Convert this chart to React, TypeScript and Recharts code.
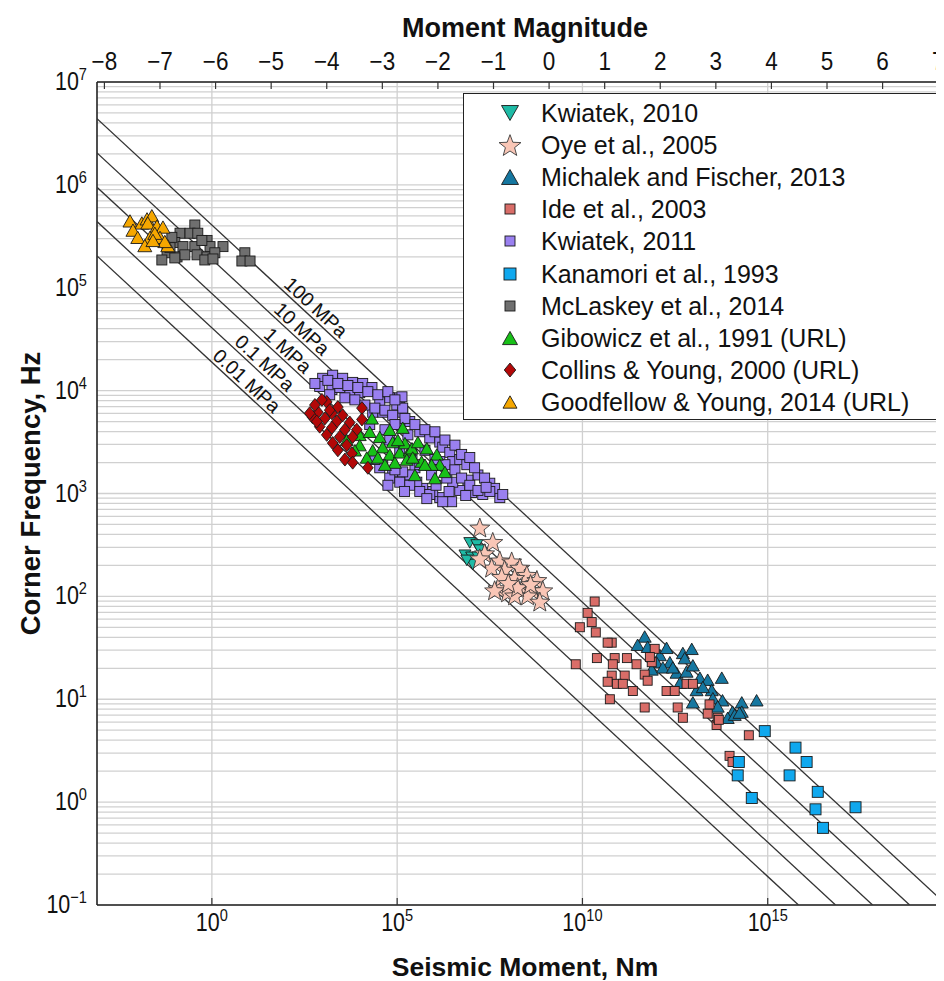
import React from 'react';
import { ScatterChart, Scatter, XAxis, YAxis, CartesianGrid, Legend } from 'recharts';

// ---------- data: [log10 seismic moment (Nm), log10 corner frequency (Hz)] ----------
const kwiatek2010 = [
  [6.96, 2.52], [7.15, 2.5], [6.83, 2.4], [7.01, 2.38], [7.18, 2.38], [7.04, 2.31], [6.88, 2.35], [7.23, 2.45],
];
const oye2005 = [
  [7.23, 2.67], [7.58, 2.53], [7.36, 2.42], [7.77, 2.35], [8.09, 2.34], [7.9, 2.26], [8.31, 2.28], [8.5, 2.21],
  [8.17, 2.18], [8.77, 2.16], [7.72, 2.08], [7.98, 2.04], [8.36, 2.06], [8.66, 2.06], [8.93, 2.06], [8.52, 2.01],
  [8.17, 2.01], [8.85, 1.95], [8.25, 2.09], [7.55, 2.28], [7.23, 2.37], [7.82, 2.19], [7.63, 2.06], [8.6, 2.12],
  [8.0, 2.13],
];
const michalek2013 = [
  [11.68, 1.61], [11.49, 1.53], [11.76, 1.51], [12.09, 1.43], [12.27, 1.5], [12.0, 1.36], [12.36, 1.36], [12.71, 1.45],
  [12.95, 1.49], [12.76, 1.4], [12.17, 1.31], [12.54, 1.26], [12.81, 1.27], [12.98, 1.33], [13.17, 1.21], [13.38, 1.19],
  [13.76, 1.21], [13.08, 1.09], [13.49, 1.09], [12.98, 0.97], [13.52, 1.01], [13.78, 0.99], [14.3, 0.97], [14.7, 0.99],
  [14.05, 0.88], [14.3, 0.88], [13.65, 0.93], [13.92, 0.82], [11.87, 1.29], [12.44, 1.31], [13.25, 1.12], [12.63, 1.16],
  [14.11, 0.85], [14.24, 0.87],
];
const ide2003 = [
  [10.33, 1.95], [10.14, 1.84], [10.25, 1.75], [9.93, 1.7], [10.36, 1.65], [10.79, 1.55], [10.68, 1.55], [9.82, 1.34],
  [10.39, 1.4], [10.87, 1.4], [11.2, 1.4], [11.46, 1.34], [10.82, 1.34], [11.14, 1.23], [10.79, 1.23], [10.68, 1.17],
  [10.93, 1.15], [11.09, 1.15], [11.68, 1.24], [11.76, 1.18], [11.36, 1.08], [10.74, 1.0], [11.87, 1.36], [11.95, 1.49],
  [11.68, 0.92], [12.27, 1.08], [12.49, 1.08], [12.81, 1.15], [12.98, 1.15], [12.57, 0.92], [12.71, 0.82], [13.38, 0.86],
  [13.43, 0.95], [13.62, 0.75], [13.65, 0.82], [11.82, 1.41], [13.68, 0.8], [14.49, 0.65], [13.97, 0.45], [14.05, 0.39],
];
const kwiatek2011 = [
  [2.99, 4.12], [3.26, 4.15], [3.53, 4.12], [3.8, 4.08], [4.07, 4.07], [4.32, 4.03], [3.72, 3.96], [3.24, 4.01],
  [2.91, 4.04], [3.45, 4.03], [3.99, 3.98], [4.53, 3.89], [4.8, 3.93], [5.07, 3.93], [4.99, 3.86], [4.61, 3.79],
  [4.34, 3.79], [5.15, 3.79], [5.34, 3.7], [5.07, 3.67], [4.61, 3.28], [4.88, 3.21], [5.26, 3.18], [5.48, 3.25],
  [5.13, 3.94], [5.15, 3.83], [5.29, 3.57], [5.61, 3.6], [5.88, 3.54], [6.15, 3.5], [6.23, 3.45], [6.42, 3.4],
  [6.5, 3.31], [6.69, 3.33], [6.88, 3.28], [7.18, 3.18], [7.5, 3.1], [7.77, 2.96], [7.31, 2.99], [7.01, 3.01],
  [6.69, 3.03], [6.5, 3.11], [6.34, 3.15], [6.15, 2.96], [5.96, 3.02], [5.69, 3.05], [5.53, 3.11], [5.34, 3.18],
  [5.15, 3.21], [6.47, 2.92], [6.23, 2.92], [6.91, 3.13], [6.15, 3.31], [5.61, 3.28], [5.93, 3.18], [2.78, 4.07],
  [3.13, 4.1], [3.4, 4.07], [3.67, 4.05], [3.94, 4.03], [4.21, 3.99], [4.48, 3.96], [4.75, 3.99], [4.94, 3.91],
  [3.18, 3.96], [3.59, 3.93], [3.86, 3.91], [4.13, 3.86], [4.4, 3.83], [4.67, 3.81], [4.88, 3.76], [5.21, 3.73],
  [5.48, 3.67], [5.75, 3.62], [6.02, 3.6], [6.29, 3.52], [6.56, 3.47], [6.74, 3.38], [6.96, 3.35], [7.09, 3.25],
  [7.36, 3.15], [7.63, 3.05], [7.85, 2.99], [6.29, 3.28], [6.56, 3.23], [6.74, 3.15], [6.96, 3.08], [7.18, 3.03],
  [7.5, 3.02], [4.53, 3.25], [4.8, 3.15], [5.07, 3.11], [5.34, 3.08], [5.61, 3.02], [5.88, 2.99], [4.94, 3.23],
  [4.4, 3.33], [5.75, 3.42], [6.02, 3.33], [5.4, 3.38], [5.07, 3.42], [4.8, 3.52], [4.94, 3.67], [4.67, 3.62],
  [4.26, 3.67], [5.8, 2.95], [6.05, 3.08], [6.4, 3.02], [6.85, 2.98], [5.2, 3.02], [4.75, 3.08], [7.4, 3.06],
];
const kanamori1993 = [
  [14.92, 0.69], [15.75, 0.53], [16.05, 0.39], [14.22, 0.39], [14.19, 0.26], [15.59, 0.26], [16.35, 0.1], [14.57, 0.04],
  [16.29, -0.07], [17.37, -0.05], [16.49, -0.25],
];
const mclaskey2014 = [
  [-0.46, 5.61], [-0.86, 5.53], [-0.59, 5.53], [-0.38, 5.53], [-0.13, 5.46], [-1.0, 5.44], [-0.78, 5.4], [-0.46, 5.4],
  [-0.05, 5.4], [0.3, 5.4], [-1.21, 5.34], [-0.94, 5.3], [-0.73, 5.32], [-0.4, 5.32], [-0.13, 5.3], [0.08, 5.34],
  [-1.35, 5.27], [-1.0, 5.29], [-0.19, 5.27], [0.03, 5.28], [0.89, 5.34], [0.81, 5.26], [1.03, 5.26], [-1.13, 5.39],
  [-0.27, 5.46], [-1.08, 5.49],
];
const gibowicz1991 = [
  [3.64, 3.52], [4.32, 3.73], [3.99, 3.57], [4.26, 3.6], [4.53, 3.55], [4.8, 3.62], [4.88, 3.5], [5.15, 3.64],
  [4.61, 3.45], [4.34, 3.42], [4.8, 3.38], [5.07, 3.4], [5.34, 3.42], [4.18, 3.35], [3.99, 3.47], [4.48, 3.35],
  [4.94, 3.3], [5.26, 3.33], [5.48, 3.18], [5.21, 3.49], [5.4, 3.44], [5.56, 3.5], [5.8, 3.44], [6.07, 3.38],
  [6.15, 3.28], [5.93, 3.28], [5.66, 3.31], [5.42, 3.35], [6.29, 3.21], [6.02, 3.15], [5.75, 3.28], [4.67, 3.28],
  [3.86, 3.42], [5.02, 3.52],
];
const collins2000 = [
  [3.1, 3.89], [3.4, 3.84], [2.86, 3.79], [3.24, 3.78], [3.53, 3.76], [2.72, 3.74], [3.05, 3.73], [3.37, 3.7],
  [3.72, 3.69], [4.05, 3.83], [2.91, 3.65], [3.24, 3.64], [3.59, 3.62], [3.91, 3.62], [3.1, 3.57], [3.45, 3.55],
  [3.8, 3.55], [3.26, 3.49], [3.64, 3.47], [3.4, 3.42], [3.78, 3.39], [3.59, 3.33], [3.8, 3.3], [4.21, 3.25],
  [2.83, 3.7], [2.64, 3.78], [4.05, 3.72], [2.78, 3.86], [2.97, 3.91], [3.18, 3.81],
];
const goodfellow2014 = [
  [-2.21, 5.65], [-1.89, 5.63], [-1.75, 5.67], [-1.62, 5.7], [-1.73, 5.63], [-2.13, 5.56], [-1.48, 5.6], [-1.32, 5.59],
  [-2.0, 5.49], [-1.67, 5.49], [-1.4, 5.49], [-1.81, 5.41], [-1.19, 5.41], [-1.27, 5.45], [-1.54, 5.53], [-1.59, 5.46],
];

// constant stress-drop reference lines (endpoints, log10 units)
const stressLabels = ['100 MPa', '10 MPa', '1 MPa', '0.1 MPa', '0.01 MPa'];
const stressLineStart = [[-3.1, 6.643], [-3.1, 6.31], [-3.1, 5.977], [-3.1, 5.643], [-3.1, 5.31]];
const stressLineEnd = [[19.83, -1], [18.83, -1], [17.83, -1], [16.83, -1], [15.83, -1]];
const stressLabelPos = [[2.81, 4.81], [2.43, 4.6], [2.05, 4.39], [1.43, 4.27], [0.944, 4.095]];

// axes
const X_LOG_MIN = -3.1;
const X_LOG_MAX = 20;
const xTicks = [1, 1e5, 1e10, 1e15];
const yTicks = [0.1, 1, 10, 100, 1e3, 1e4, 1e5, 1e6, 1e7];
const mwTicks = [-8, -7, -6, -5, -4, -3, -2, -1, 0, 1, 2, 3, 4, 5, 6, 7];
const toMw = (logM0: number) => (2 / 3) * (logM0 - 9.1);

// ---------- layout ----------
const W = 960;
const H = 973;
const PLOT_TOP = 74;
const PLOT_BOTTOM = 897;
const PLOT_LEFT = 89;
const PLOT_RIGHT = 945;
const TICK_FONT = '"Liberation Sans", Arial, Helvetica, sans-serif';
const TEXT_FONT = '"Liberation Sans", Arial, Helvetica, sans-serif';

const toPts = (arr: number[][]) => arr.map(([a, b]) => ({ m0: Math.pow(10, a), fc: Math.pow(10, b) }));

type Kind = 'square' | 'triUp' | 'triDown' | 'diamond' | 'star';

const SERIES: { name: string; data: number[][]; kind: Kind; fill: string; size: number; legendSize: number }[] = [
  { name: 'Kwiatek, 2010', data: kwiatek2010, kind: 'triDown', fill: '#1fbba6', size: 12, legendSize: 17 },
  { name: 'Oye et al., 2005', data: oye2005, kind: 'star', fill: '#f9c6b6', size: 21, legendSize: 23 },
  { name: 'Michalek and Fischer, 2013', data: michalek2013, kind: 'triUp', fill: '#1677a0', size: 13, legendSize: 17 },
  { name: 'Ide et al., 2003', data: ide2003, kind: 'square', fill: '#d96d68', size: 9, legendSize: 10 },
  { name: 'Kwiatek, 2011', data: kwiatek2011, kind: 'square', fill: '#9a80f0', size: 10, legendSize: 10 },
  { name: 'Kanamori et al., 1993', data: kanamori1993, kind: 'square', fill: '#10a8ee', size: 11, legendSize: 12 },
  { name: 'McLaskey et al., 2014', data: mclaskey2014, kind: 'square', fill: '#6f6f6f', size: 10, legendSize: 10 },
  { name: 'Gibowicz et al., 1991 (URL)', data: gibowicz1991, kind: 'triUp', fill: '#18c018', size: 13, legendSize: 15 },
  { name: 'Collins & Young, 2000 (URL)', data: collins2000, kind: 'diamond', fill: '#b30808', size: 13, legendSize: 14 },
  { name: 'Goodfellow & Young, 2014 (URL)', data: goodfellow2014, kind: 'triUp', fill: '#f5a700', size: 14, legendSize: 14 },
];

function Marker({ kind, cx, cy, s, fill }: { kind: Kind; cx: number; cy: number; s: number; fill: string }) {
  const st = { fill, stroke: '#1a1a1a', strokeWidth: 0.9 };
  if (cx == null || cy == null) return null;
  switch (kind) {
    case 'square':
      return <rect x={cx - s / 2} y={cy - s / 2} width={s} height={s} {...st} />;
    case 'triUp': {
      const h = s * 0.88;
      return <polygon points={`${cx},${cy - h / 2} ${cx + s / 2},${cy + h / 2} ${cx - s / 2},${cy + h / 2}`} {...st} />;
    }
    case 'triDown': {
      const h = s * 0.88;
      return <polygon points={`${cx},${cy + h / 2} ${cx + s / 2},${cy - h / 2} ${cx - s / 2},${cy - h / 2}`} {...st} />;
    }
    case 'diamond': {
      const w = s * 0.82;
      return <polygon points={`${cx},${cy - s / 2} ${cx + w / 2},${cy} ${cx},${cy + s / 2} ${cx - w / 2},${cy}`} {...st} />;
    }
    case 'star': {
      const R = s / 2;
      const r = R * 0.42;
      const pts: string[] = [];
      for (let i = 0; i < 10; i++) {
        const ang = -Math.PI / 2 + (i * Math.PI) / 5;
        const rad = i % 2 === 0 ? R : r;
        pts.push(`${(cx + rad * Math.cos(ang)).toFixed(2)},${(cy + rad * Math.sin(ang) + R * 0.1).toFixed(2)}`);
      }
      return <polygon points={pts.join(' ')} fill={fill} stroke="#3a3a3a" strokeWidth={0.9} />;
    }
  }
  return null;
}

const expText = (v: number) => {
  const e = Math.round(Math.log10(v));
  return e < 0 ? '\u2212' + Math.abs(e) : String(e);
};

function Pow10({ x, y, v, anchor }: { x: number; y: number; v: number; anchor: 'start' | 'middle' | 'end' }) {
  return (
    <g transform={`translate(${x},${y}) scale(0.86,1)`}>
      <text x={0} y={0} textAnchor={anchor} fontFamily={TICK_FONT} fontSize={25} fill="#111">
        <tspan>10</tspan>
        <tspan dy={-10} fontSize={17}>{expText(v)}</tspan>
      </text>
    </g>
  );
}

const YTick = (p: any) => <Pow10 x={p.x - 8} y={p.y + 8} v={p.payload.value} anchor="end" />;

const BottomTick = (p: any) => (
  <g>
    <line x1={p.x} x2={p.x} y1={PLOT_BOTTOM} y2={PLOT_BOTTOM - 7} stroke="#333" strokeWidth={1.2} />
    <Pow10 x={p.x} y={PLOT_BOTTOM + 26} v={p.payload.value} anchor="middle" />
  </g>
);

const TopTick = (p: any) => {
  const v = p.payload.value as number;
  return (
    <g>
      <line x1={p.x} x2={p.x} y1={PLOT_TOP} y2={PLOT_TOP + 7} stroke="#333" strokeWidth={1.2} />
      <g transform={`translate(${p.x},${PLOT_TOP - 12}) scale(0.9,1)`}>
        <text x={0} y={0} textAnchor="middle" fontFamily={TICK_FONT} fontSize={25} fill="#111">
          {v < 0 ? '\u2212' + Math.abs(v) : String(v)}
        </text>
      </g>
    </g>
  );
};

const TopTitle = () => (
  <text x={(PLOT_LEFT + PLOT_RIGHT) / 2} y={29} textAnchor="middle" fontFamily={TEXT_FONT} fontWeight="bold" fontSize={27} fill="#111">
    Moment Magnitude
  </text>
);
const BottomTitle = () => (
  <text x={(PLOT_LEFT + PLOT_RIGHT) / 2} y={968} textAnchor="middle" fontFamily={TEXT_FONT} fontWeight="bold" fontSize={26.5} fill="#111">
    Seismic Moment, Nm
  </text>
);
const LeftTitle = () => {
  const cy = (PLOT_TOP + PLOT_BOTTOM) / 2;
  return (
    <text x={32} y={cy} transform={`rotate(-90, 32, ${cy})`} textAnchor="middle" fontFamily={TEXT_FONT} fontWeight="bold" fontSize={27.5} fill="#111">
      Corner Frequency, Hz
    </text>
  );
};

const LegendBox = () => (
  <div
    style={{
      width: 477,
      height: 327,
      boxSizing: 'border-box',
      border: '1.5px solid #222',
      background: '#fff',
      paddingTop: 3,
      fontFamily: TEXT_FONT,
    }}
  >
    {SERIES.map((s) => (
      <div key={s.name} style={{ height: 32.1, display: 'flex', alignItems: 'center' }}>
        <svg width={77} height={32} style={{ display: 'block', flex: 'none' }}>
          <Marker kind={s.kind} cx={46} cy={16} s={s.legendSize} fill={s.fill} />
        </svg>
        <span style={{ fontSize: 25, color: '#111', whiteSpace: 'nowrap', lineHeight: '32px' }}>{s.name}</span>
      </div>
    ))}
  </div>
);

const minorGrid: number[] = [];
for (let d = -1; d < 7; d++) for (let m = 1; m < 10; m++) minorGrid.push(m * Math.pow(10, d));
minorGrid.push(1e7);

const StressLabelShape = (p: any) => {
  if (p.cx == null) return null;
  return (
    <text
      x={p.cx}
      y={p.cy}
      dy="0.35em"
      textAnchor="middle"
      transform={`rotate(42.8, ${p.cx}, ${p.cy})`}
      fontFamily={TEXT_FONT}
      fontSize={19.5}
      fill="#111"
    >
      {p.payload.label}
    </text>
  );
};

export default function App() {
  const stressLines = stressLabels.map((label, i) => ({
    label,
    pts: toPts([stressLineStart[i], stressLineEnd[i]]),
  }));
  const labelData = stressLabels.map((label, i) => ({ ...toPts([stressLabelPos[i]])[0], label }));

  return (
    <div style={{ width: 936, height: 973, overflow: 'hidden', position: 'relative' }}>
      <ScatterChart width={W} height={H} margin={{ top: 0, right: W - PLOT_RIGHT, bottom: 0, left: 0 }}>
        <CartesianGrid
          xAxisId="bottom"
          yAxisId="left"
          horizontalValues={minorGrid}
          verticalValues={[1, 1e5, 1e10, 1e15]}
          stroke="#d0d0d0"
          strokeWidth={1.3}
          fill="#fff"
        />
        <XAxis
          xAxisId="bottom"
          orientation="bottom"
          type="number"
          dataKey="m0"
          scale="log"
          domain={[Math.pow(10, X_LOG_MIN), Math.pow(10, X_LOG_MAX)]}
          allowDataOverflow
          ticks={xTicks}
          interval={0}
          height={H - PLOT_BOTTOM}
          tickLine={false}
          tickSize={0}
          axisLine={{ stroke: '#222', strokeWidth: 1.6 }}
          tick={<BottomTick />}
          label={<BottomTitle />}
        />
        <XAxis
          xAxisId="top"
          orientation="top"
          type="number"
          dataKey="mw"
          domain={[toMw(X_LOG_MIN), toMw(X_LOG_MAX)]}
          allowDataOverflow
          ticks={mwTicks}
          interval={0}
          height={PLOT_TOP}
          tickLine={false}
          tickSize={0}
          axisLine={{ stroke: '#222', strokeWidth: 1.6 }}
          tick={<TopTick />}
          label={<TopTitle />}
        />
        <YAxis
          yAxisId="left"
          type="number"
          dataKey="fc"
          scale="log"
          domain={[0.1, 1e7]}
          allowDataOverflow
          ticks={yTicks}
          interval={0}
          width={PLOT_LEFT}
          tickLine={false}
          tickSize={0}
          axisLine={{ stroke: '#222', strokeWidth: 1.6 }}
          tick={<YTick />}
          label={<LeftTitle />}
        />
        {stressLines.map((l) => (
          <Scatter
            key={l.label}
            name={l.label}
            data={l.pts}
            xAxisId="bottom"
            yAxisId="left"
            line={{ stroke: '#333', strokeWidth: 1.3 }}
            lineJointType="linear"
            shape={() => <g />}
            legendType="none"
            isAnimationActive={false}
          />
        ))}
        <Scatter
          name="stress labels"
          data={labelData}
          xAxisId="bottom"
          yAxisId="left"
          shape={<StressLabelShape />}
          legendType="none"
          isAnimationActive={false}
        />
        {SERIES.map((s) => (
          <Scatter
            key={s.name}
            name={s.name}
            data={toPts(s.data)}
            xAxisId="bottom"
            yAxisId="left"
            fill={s.fill}
            shape={(p: any) => <Marker kind={s.kind} cx={p.cx} cy={p.cy} s={s.size} fill={s.fill} />}
            isAnimationActive={false}
          />
        ))}
        <Legend
          layout="vertical"
          align="center"
          verticalAlign="middle"
          wrapperStyle={{ left: 455, top: 85, width: 477, height: 327, right: 'auto', bottom: 'auto' }}
          content={<LegendBox />}
        />
      </ScatterChart>
    </div>
  );
}
